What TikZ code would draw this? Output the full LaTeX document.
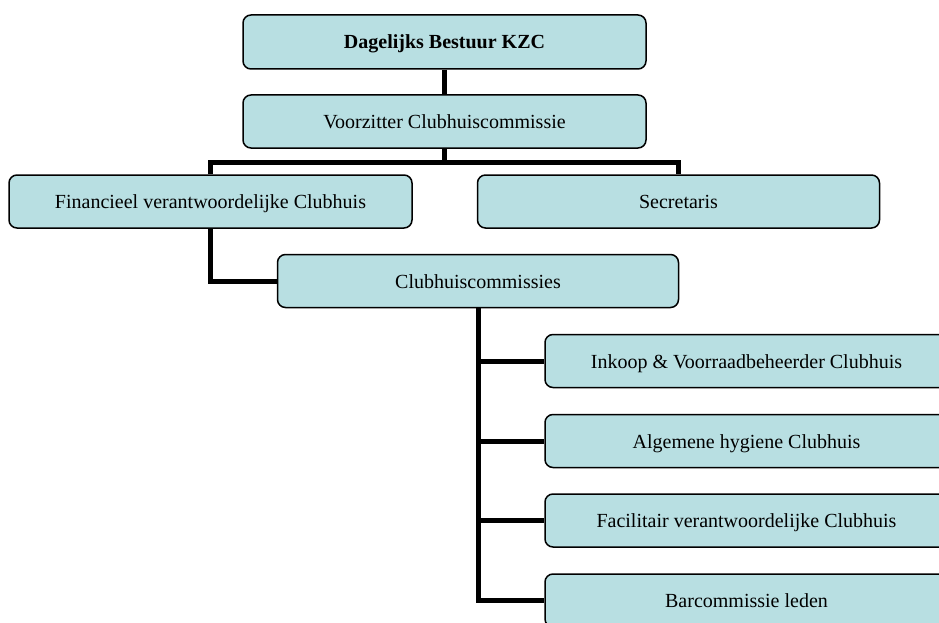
\documentclass[tikz,border=0pt]{standalone}
\usepackage{fontspec}
\setmainfont{Liberation Serif}
\definecolor{boxfill}{HTML}{B8DFE2}
\begin{document}
\begin{tikzpicture}[x=1pt,y=-1pt,
  orgbox/.style={draw=black, line width=1.5pt, fill=boxfill, rounded corners=8pt,
    minimum width=403pt, minimum height=53pt, inner sep=0pt,
    text height=14pt, text depth=-8pt,
    font=\fontsize{20}{24}\selectfont},
  conn/.style={draw=black, line width=5pt, line join=miter}]
\useasboundingbox (0,0) rectangle (939,623);
\clip (0,0) rectangle (939,623);
\node[orgbox, minimum height=54pt] (top) at (444.5,42) {\textbf{Dagelijks Bestuur KZC}};
\node[orgbox] (voor) at (444.5,121.5) {Voorzitter Clubhuiscommissie};
\node[orgbox] (fin) at (210.5,201.5) {Financieel verantwoordelijke Clubhuis};
\node[orgbox, minimum width=402pt] (sec) at (678.5,201.5) {Secretaris};
\node[orgbox, minimum width=401pt] (club) at (478,281) {Clubhuiscommissies};
\node[orgbox] (ink) at (746.5,361) {Inkoop \& Voorraadbeheerder Clubhuis};
\node[orgbox] (alg) at (746.5,441) {Algemene hygiene Clubhuis};
\node[orgbox] (fac) at (746.5,520.5) {Facilitair verantwoordelijke Clubhuis};
\node[orgbox] (bar) at (746.5,600.5) {Barcommissie leden};
\coordinate (busy) at (0,162);
\draw[conn] (top.south) -- (voor.north);
\draw[conn] (voor.south) -- (voor.south |- busy);
\draw[conn] (fin.north) -- (fin.north |- busy) -- (sec.north |- busy) -- (sec.north);
\draw[conn] (fin.south) |- (club.west);
\draw[conn] (club.south) |- (ink.west);
\draw[conn] (club.south) |- (alg.west);
\draw[conn] (club.south) |- (fac.west);
\draw[conn] (club.south) |- (bar.west);
\end{tikzpicture}
\end{document}
